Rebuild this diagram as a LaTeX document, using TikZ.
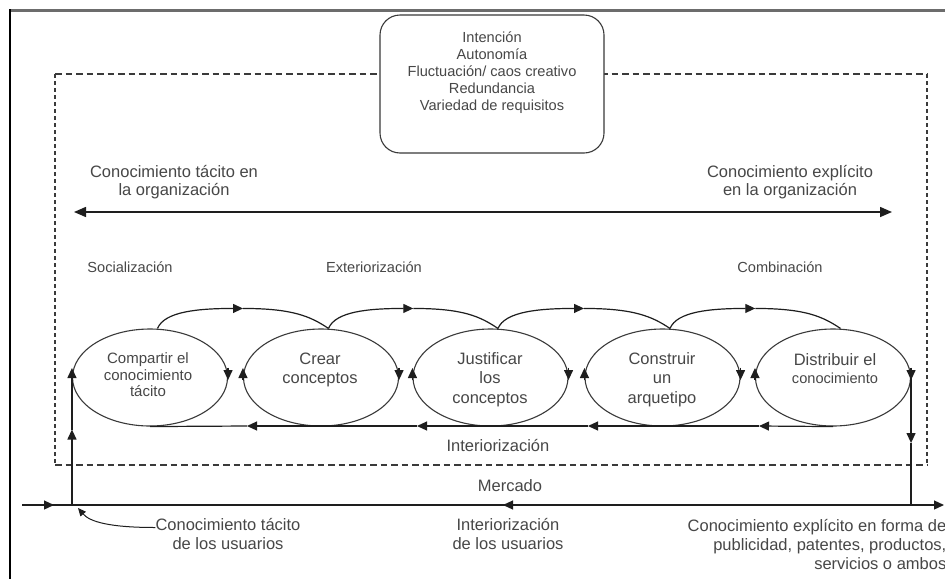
\documentclass[tikz,border=0pt]{standalone}
\usepackage{fontspec}
\setmainfont{Liberation Sans}
\usetikzlibrary{arrows.meta,shapes.geometric,calc}
\definecolor{txt}{HTML}{474747}
\definecolor{ln}{HTML}{1E1E1E}
\definecolor{eln}{HTML}{3A3A3A}
\tikzset{
  arr/.style={-{Triangle[length=10pt,width=9pt]}},
  lbl/.style={text=txt,inner sep=0pt,align=center,font=\fontsize{16.5}{19}\selectfont},
  sml/.style={text=txt,inner sep=0pt,align=center,font=\fontsize{14.6}{17}\selectfont},
  ell/.style={ellipse,draw=eln,line width=1.1pt,minimum width=155pt,minimum height=97pt,inner sep=0pt},
  conn/.style={draw=ln,line width=1.2pt},
  dashh/.style={draw=eln,line width=1.3pt,dash pattern=on 6.5pt off 4pt},
  dashv/.style={draw=eln,line width=1.3pt,dash pattern=on 4pt off 3pt},
}
\begin{document}
\begin{tikzpicture}[x=1pt,y=-1pt]
\useasboundingbox (0,0) rectangle (945,579);
\fill[white] (0,0) rectangle (945,579);
% outer frame
\draw[draw=gray!85!black,line width=3pt] (9,10) -- (945,10);
\draw[draw=black,line width=2pt] (10,9) -- (10,579);
% dashed organisation boundary
\draw[dashh] (55,74) -- (927,74);
\draw[dashh] (55,465) -- (927,465);
\draw[dashv] (55,74) -- (55,465);
\draw[dashv] (927,74) -- (927,465);
% conditions box
\node[draw=eln,line width=1.1pt,rounded corners=20pt,fill=white,minimum width=224pt,minimum height=138pt] (box) at (492,84) {};
\node[sml] (boxt) at (492,72.5) {Intención\\Autonomía\\Fluctuación/ caos creativo\\Redundancia\\Variedad de requisitos};
% top labels
\node[lbl,font=\fontsize{16.5}{18}\selectfont] (tac) at (174,182) {Conocimiento tácito en\\la organización};
\node[lbl,font=\fontsize{16.5}{18}\selectfont] (exp) at (790,182) {Conocimiento explícito\\en la organización};
\coordinate (dl) at (74,212);
\coordinate (dr) at (892,212);
\draw[conn,line width=1.5pt,{Triangle[length=12pt,width=10pt]}-{Triangle[length=12pt,width=10pt]}] (dl) -- (dr);
% phase labels
\node[sml] (soc) at (130,267) {Socialización};
\node[sml] (ext) at (374,267) {Exteriorización};
\node[sml] (com) at (780,267) {Combinación};
% ellipses
\node[ell] (e1) at (150,377.5) {};
\node[ell] (e2) at (321,377.5) {};
\node[ell] (e3) at (490.5,377.5) {};
\node[ell] (e4) at (662.5,377.5) {};
\node[ell] (e5) at (833,377.5) {};
\node[sml,font=\fontsize{15}{16.5}\selectfont] (t1) at (148,375) {Compartir el\\conocimiento\\tácito};
\node[lbl] (t2) at (320,369.5) {Crear\\conceptos};
\node[lbl,font=\fontsize{16.5}{19.5}\selectfont] (t3) at (490,379.5) {Justificar\\los\\conceptos};
\node[lbl,font=\fontsize{16.5}{19.5}\selectfont] (t4) at (662,379.5) {Construir\\un\\arquetipo};
\node[lbl,font=\fontsize{16.5}{18}\selectfont] (t5) at (835,369) {Distribuir el\\{\fontsize{14.6}{18}\selectfont conocimiento}};
% arrows on the ellipse sides
\foreach \e in {e1,e2,e3,e4,e5}{
  \draw[conn,arr] ([yshift=-2pt]\e.west) -- ([yshift=9.5pt]\e.west);
  \draw[conn,arr] ([yshift=10pt]\e.east) -- ([yshift=-2.5pt]\e.east);
}
% top arcs
\foreach \a/\b [count=\i] in {e1/e2,e2/e3,e3/e4,e4/e5}{
  \coordinate (ja\i) at ([xshift=7.5pt]\a.north);
  \coordinate (jb\i) at ([xshift=7.5pt]\b.north);
  \coordinate (m\i) at ($(ja\i)!0.5!(jb\i)+(0,-20)$);
  \draw[conn,arr] (ja\i) .. controls +(7,-17) and +(-45,0) .. (m\i);
  \draw[conn] (m\i) .. controls +(50,0) and +(-18,-12) .. (jb\i);
}
% bottom internalisation line
\coordinate (b1) at (247,426);
\coordinate (b2) at (417,426);
\coordinate (b3) at (588,426);
\coordinate (b4) at (759,426);
\draw[conn,arr] (e5.south) -- (b4);
\draw[conn,arr] (b4) -- (b3);
\draw[conn,arr] (b3) -- (b2);
\draw[conn,arr] (b2) -- (b1);
\draw[conn] (b1) -- (e1.south);
\node[lbl] (int) at (498,445) {Interiorización};
% market line
\coordinate (mL) at (22,505);
\coordinate (mR) at (944,505);
\coordinate (ma) at (54,505);
\coordinate (mb1) at (516,505);
\coordinate (mb2) at (503,505);
\draw[conn,arr] (mL) -- (mR);
\draw[conn,arr] (mL) -- (ma);
\draw[conn,arr] (mb1) -- (mb2);
\node[lbl] (mer) at (510,486) {Mercado};
% verticals
\coordinate (ua) at ($(e1.west)+(0,52)$);
\draw[conn,arr] (e1.west |- mL) -- (ua);
\draw[conn] (ua) -- (e1.west);
\coordinate (da) at ($(e5.east)+(0,65.5)$);
\draw[conn,arr] (e5.east) -- (da);
\draw[conn] (da) -- (e5.east |- mR);
% bottom labels
\node[lbl] (ctu) at (228,533.5) {Conocimiento tácito\\de los usuarios};
\node[lbl] (iu) at (508,533.5) {Interiorización\\de los usuarios};
\node[lbl,anchor=east,align=right] (cef) at (946.5,544) {Conocimiento explícito en forma de\\publicidad, patentes, productos,\\servicios o ambos};
\coordinate (cta) at (78,508);
\draw[conn,line width=1pt,-{Triangle[length=8pt,width=7pt]}] ([yshift=6pt]ctu.west) .. controls +(-45,0) and +(12,14) .. (cta);
\end{tikzpicture}
\end{document}
